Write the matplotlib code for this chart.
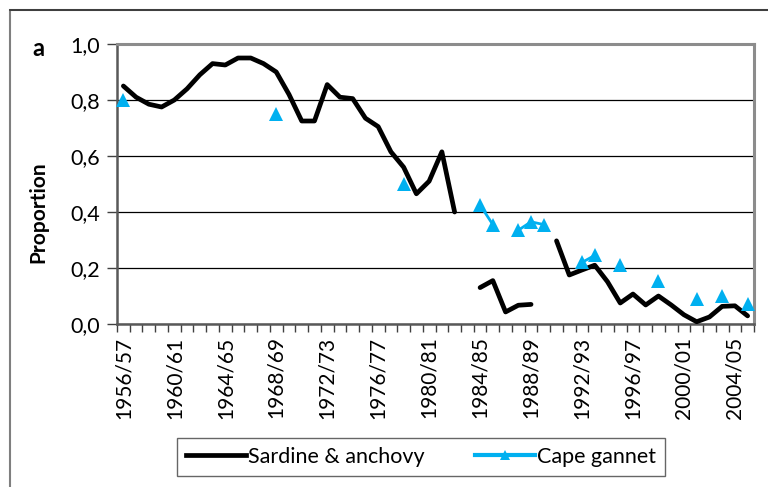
import matplotlib
matplotlib.use('Agg')

import matplotlib.pyplot as plt
from matplotlib.lines import Line2D
from matplotlib.patches import Rectangle
from matplotlib.ticker import FuncFormatter
import numpy as np

nan = np.nan

# 50 seasons: 1956/57 ... 2005/06
n_seasons = 50

tick_labels = ["1956/57", "1960/61", "1964/65", "1968/69", "1972/73",
               "1976/77", "1980/81", "1984/85", "1988/89", "1992/93",
               "1996/97", "2000/01", "2004/05"]

# Proportion of sardine & anchovy (gaps where no data)
sardine_anchovy = [
    0.85, 0.81, 0.785, 0.775, 0.80, 0.84, 0.89, 0.93, 0.925, 0.95,
    0.95, 0.93, 0.90, 0.82, 0.725, 0.725, 0.855, 0.81, 0.805, 0.735,
    0.705, 0.615, 0.56, 0.465, 0.51, 0.615, 0.40, nan, 0.13, 0.155,
    0.043, 0.067, 0.07, nan, 0.297, 0.175, 0.193, 0.21, 0.151, 0.075,
    0.107, 0.068, 0.10, 0.068, 0.033, 0.008, 0.025, 0.063, 0.065, 0.029,
]

# Cape gannet diet proportion
cape_gannet = [
    0.80, nan, nan, nan, nan, nan, nan, nan, nan, nan,
    nan, nan, 0.75, nan, nan, nan, nan, nan, nan, nan,
    nan, nan, 0.50, nan, nan, nan, nan, nan, 0.425, 0.355,
    nan, 0.335, 0.365, 0.355, nan, nan, 0.22, 0.245, nan, 0.21,
    nan, nan, 0.155, nan, nan, 0.09, nan, 0.10, nan, 0.07,
]

font = ['Lato', 'DejaVu Sans']
plt.rcParams['font.family'] = font

fig = plt.figure(figsize=(7.68, 4.87), dpi=100)

# borde exterior del gráfico (recortado a la derecha y abajo)
fig.patches.append(Rectangle((10 / 768, -0.1), 1.2, 1 - 10 / 487 + 0.1,
                             transform=fig.transFigure, fill=False,
                             edgecolor='#7f7f7f', linewidth=1.5))
fig.add_artist(Line2D([10 / 768, 1], [1 - 10 / 487] * 2, transform=fig.transFigure,
                      color='#333333', linewidth=1.2))

ax = fig.add_axes([117 / 768, 1 - 324 / 487, (754 - 117) / 768, (324 - 44) / 487])

x = np.arange(n_seasons)
ax.plot(x, sardine_anchovy, color='black', linewidth=3.4,
        solid_joinstyle='round', solid_capstyle='round', zorder=3)
ax.plot(x, cape_gannet, color='#00B0F0', linewidth=2.0, marker='^',
        markersize=10, markeredgewidth=0, zorder=4, clip_on=False)

ax.set_xlim(-0.5, n_seasons - 0.5)
ax.set_ylim(0, 1.0)

ax.set_yticks(np.arange(0, 1.01, 0.2))
ax.yaxis.set_major_formatter(FuncFormatter(lambda v, p: f"{v:.1f}".replace('.', ',')))
ax.grid(axis='y', color='black', linewidth=0.9, zorder=1)
ax.set_axisbelow(True)

ax.set_xticks(np.arange(0, n_seasons, 4))
ax.set_xticklabels(tick_labels, rotation=90)
ax.set_xticks(np.arange(-0.5, n_seasons, 1), minor=True)
ax.tick_params(axis='x', which='major', length=0, pad=9, labelsize=15)
ax.tick_params(axis='x', which='minor', length=6, width=1, color='#404040')
ax.tick_params(axis='y', length=7, width=1, color='#404040', labelsize=15.5, pad=5)

for side in ['left', 'bottom']:
    ax.spines[side].set_color('#595959')
    ax.spines[side].set_linewidth(1.8)
for side in ['top', 'right']:
    ax.spines[side].set_color('#8c8c8c')
    ax.spines[side].set_linewidth(2.2)

fig.text(38 / 768, 1 - 48 / 487, 'a', fontsize=17, fontweight='bold',
         ha='center', va='center')
fig.text(38 / 768, 1 - 212 / 487, 'Proportion', fontsize=15, fontweight='bold',
         rotation=90, ha='center', va='center')

handles = [
    Line2D([], [], color='black', linewidth=3.4),
    Line2D([], [], color='#00B0F0', linewidth=3.0, marker='^', markersize=7,
           markeredgewidth=0),
]
leg = fig.legend(handles, ['Sardine & anchovy', 'Cape gannet'], ncol=2,
                 loc='center', bbox_to_anchor=(421 / 768, 1 - 457 / 487),
                 fontsize=15.5, frameon=True, fancybox=False, handlelength=2.8,
                 handletextpad=0.1, columnspacing=2.3, borderpad=0.4,
                 borderaxespad=0, handleheight=0.7)
leg.get_frame().set_edgecolor('#404040')
leg.get_frame().set_linewidth(1.0)

fig.savefig('out.png', dpi=100)
plt.close(fig)
